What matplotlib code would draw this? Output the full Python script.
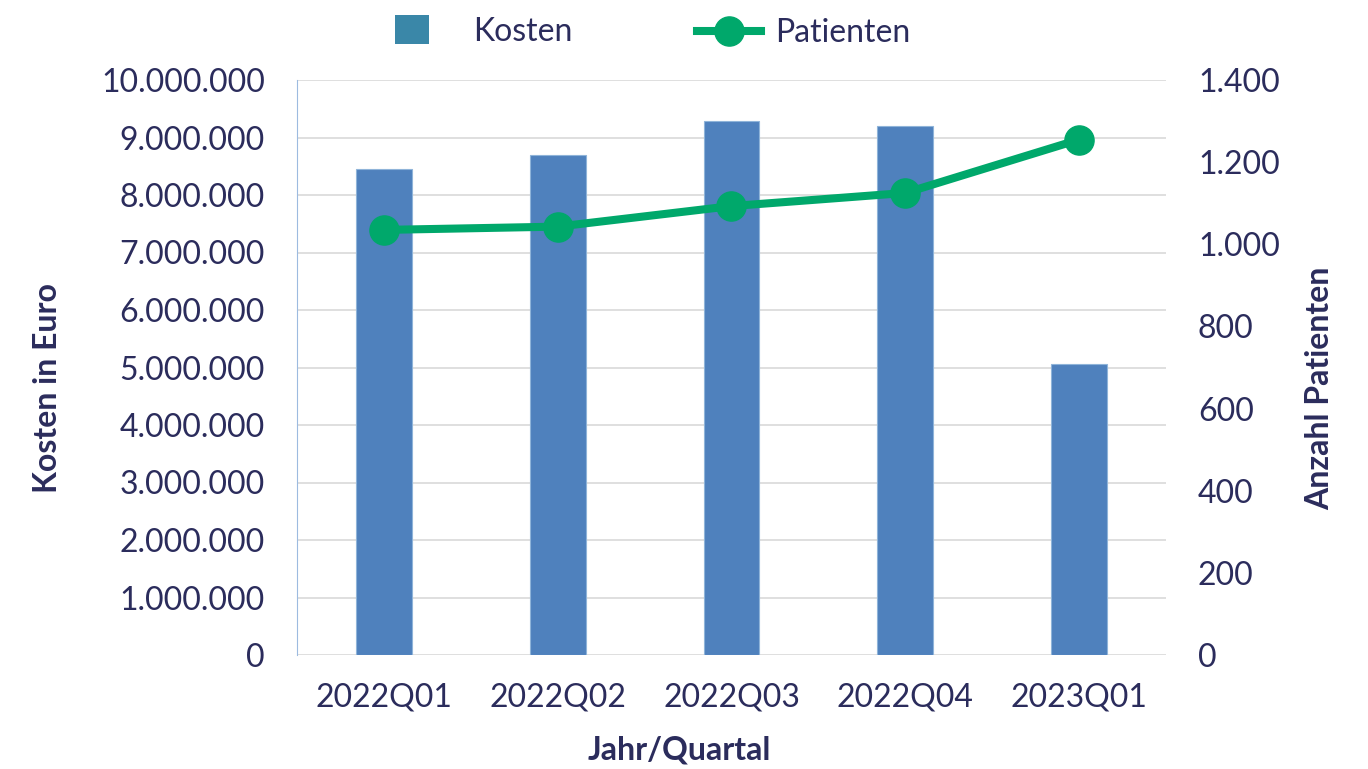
import matplotlib
matplotlib.use("Agg")
import matplotlib.pyplot as plt
from matplotlib.lines import Line2D
from matplotlib.patches import Patch
from matplotlib.ticker import FuncFormatter

# data
quartale = ["2022Q01", "2022Q02", "2022Q03", "2022Q04", "2023Q01"]
kosten = [8450000, 8700000, 9290000, 9200000, 5060000]
patienten = [1035, 1043, 1093, 1125, 1255]

text_col = "#2b2c5c"
bar_col = "#4f81bd"
line_col = "#00a86b"

plt.rcParams["font.family"] = ["Lato", "DejaVu Sans"]

W, H = 1368, 769


def dots(v, pos):
    # german thousands separator
    return f"{int(round(v)):,}".replace(",", ".")


fig = plt.figure(figsize=(W / 100, H / 100), dpi=100)
ax = fig.add_axes([297 / W, 1 - 655 / H, (1166 - 297) / W, (655 - 80) / H])
ax2 = ax.twinx()

x = range(len(quartale))
ax.bar(x, kosten, width=0.32, color=bar_col, edgecolor="#8fb4d9", linewidth=0.8, zorder=2)
ax2.plot(x, patienten, color=line_col, lw=5.8, marker="o", ms=21, zorder=3)

ax.set_xlim(-0.5, 4.5)
ax.set_ylim(0, 10000000)
ax.set_yticks(range(0, 10000001, 1000000))
ax2.set_ylim(0, 1400)
ax2.set_yticks(range(0, 1401, 200))
ax.yaxis.set_major_formatter(FuncFormatter(dots))
ax2.yaxis.set_major_formatter(FuncFormatter(dots))
ax.set_xticks(list(x))
ax.set_xticklabels(quartale)

ax.grid(axis="y", color="#d9d9d9", lw=1.2, zorder=0)
ax.set_axisbelow(True)
for a in (ax, ax2):
    for s in ("top", "right", "bottom", "left"):
        a.spines[s].set_visible(False)
    a.tick_params(length=0, labelsize=23, colors=text_col)
ax.spines["left"].set_visible(True)
ax.spines["left"].set_color("#9dbbe0")
ax.tick_params(axis="y", pad=23)
ax2.tick_params(axis="y", pad=23)
ax.tick_params(axis="x", pad=20)

ax.set_ylabel("Kosten in Euro", fontsize=23, fontweight="bold", color=text_col)
ax2.set_ylabel("Anzahl Patienten", fontsize=23, fontweight="bold", color=text_col)
ax.set_xlabel("Jahr/Quartal", fontsize=23, fontweight="bold", color=text_col)
ax.yaxis.set_label_coords(-(297 - 48) / (1166 - 297), (655 - 388) / 575)
ax2.yaxis.set_label_coords(1 + (1320 - 1166) / (1166 - 297), (655 - 388) / 575)
ax.xaxis.set_label_coords((679 - 297) / (1166 - 297), -(750 - 655) / 575)
ax.xaxis.label.set_va("center")
ax.yaxis.label.set_va("center")
ax2.yaxis.label.set_va("center")

# legend, one entry each so they can sit where the reference has them
leg1 = fig.legend([Patch(facecolor="#3a87a8", edgecolor="none")], ["Kosten"],
                  loc="center left", bbox_to_anchor=(395 / W, 1 - 31 / H), frameon=False,
                  fontsize=23, handlelength=1.05, handleheight=1.0, handletextpad=1.4,
                  borderpad=0, borderaxespad=0)
leg2 = fig.legend([Line2D([0], [0], color=line_col, lw=5.8, marker="o", ms=21)], ["Patienten"],
                  loc="center left", bbox_to_anchor=(697 / W, 1 - 33 / H), frameon=False,
                  fontsize=23, handlelength=2.0, handletextpad=0.45,
                  borderpad=0, borderaxespad=0)
for lg in (leg1, leg2):
    for t in lg.get_texts():
        t.set_color(text_col)

fig.savefig("out.png", dpi=100)
